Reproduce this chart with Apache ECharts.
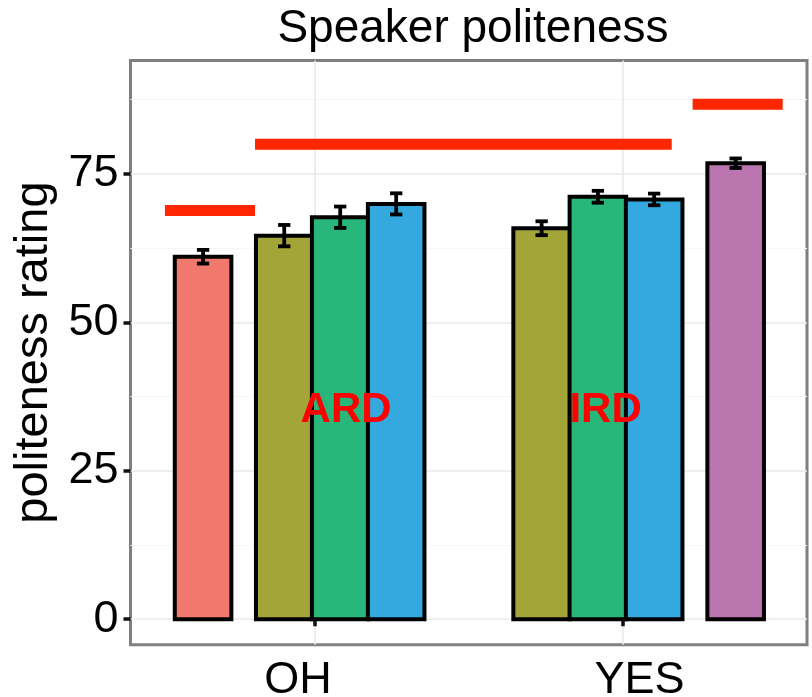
<!DOCTYPE html>
<html><head><meta charset="utf-8">
<script src="https://cdn.jsdelivr.net/npm/echarts@6/dist/echarts.min.js"></script>
<style>html,body{margin:0;padding:0;background:#fff}#c{width:812px;height:697px}</style>
</head><body><div id="c"></div>
<script>
// ---- data ----
const categories = ['OH', 'YES'];
const barCategory = ['OH', 'OH', 'OH', 'OH', 'YES', 'YES', 'YES', 'YES'];
const barValues = [61.05, 64.6, 67.7, 69.95, 65.85, 71.15, 70.7, 76.8];
const barErrors = [1.15, 1.8, 1.8, 1.78, 1.17, 1.0, 0.98, 0.8];
const referenceLevels = [68.85, 80.0, 86.75];
const annotationLabels = ['ARD', 'IRD'];
const annotationLevel = 35.1;
const yTicks = [0, 25, 50, 75];
const yMinorTicks = [12.5, 37.5, 62.5, 87.5];

// ---- layout (category units) and styles ----
const barOffsets = [-0.364, -0.100, 0.082, 0.264, -0.263, -0.080, 0.103, 0.368];
const barWidth = 0.184;
const capWidth = 0.04;
const barColors = ['#F1786C', '#A3A539', '#28B67A', '#33A9DF', '#A3A539', '#28B67A', '#33A9DF', '#BC76AF'];
const segmentSpans = [[0.512, 0.805], [0.805, 2.160], [2.228, 2.521]];
const annotationX = [1.101, 1.945];
const FONT = '"Liberation Sans", Arial, Helvetica, sans-serif';

const catPos = c => categories.indexOf(c) + 1;
const barData = barValues.map((v, i) => [catPos(barCategory[i]) + barOffsets[i], v, barErrors[i]]);
const segData = referenceLevels.map((v, i) => [segmentSpans[i][0], segmentSpans[i][1], v]);
const textData = annotationLabels.map((t, i) => [annotationX[i], annotationLevel, t]);

const labelRich = {
  l: {fontSize: 45, color: '#000', fontFamily: FONT, padding: [0, 34, 0, 0]},
  r: {fontSize: 45, color: '#000', fontFamily: FONT, padding: [0, 0, 0, 34]}
};

const chart = echarts.init(document.getElementById('c'), null, {renderer: 'canvas'});
chart.setOption({
  animation: false,
  backgroundColor: '#fff',
  title: {
    text: 'Speaker politeness', left: 468, top: 1, textAlign: 'center',
    textStyle: {fontSize: 46, fontWeight: 'normal', color: '#000', fontFamily: FONT}
  },
  grid: {
    left: 130.5, right: 5, top: 60.5, bottom: 52.3,
    show: true, borderColor: '#7f7f7f', borderWidth: 3, backgroundColor: 'transparent',
    outerBoundsMode: 'none', containLabel: false
  },
  xAxis: {
    type: 'value', min: 0.4, max: 2.6,
    axisLine: {show: false},
    axisTick: {show: true, length: 7, customValues: [1, 2], lineStyle: {color: '#111', width: 3.5}},
    axisLabel: {customValues: [1, 2],
      formatter: v => {
        const i = Math.round(v) - 1;
        if (!categories[i]) return '';
        return '{' + (i === 0 ? 'l' : 'r') + '|' + categories[i] + '}';
      },
      rich: labelRich,
      fontSize: 45, color: '#000', fontFamily: FONT, margin: 13},
    splitLine: {show: true, lineStyle: {color: '#e8e8e8', width: 1.6}}
  },
  yAxis: [{
    type: 'value', min: -4.3, max: 94.1,
    name: 'politeness rating', nameLocation: 'middle', nameGap: 63,
    nameTextStyle: {fontSize: 47, color: '#000', fontFamily: FONT},
    axisLine: {show: false},
    axisTick: {show: true, length: 7, customValues: yTicks, lineStyle: {color: '#111', width: 3.5}},
    axisLabel: {customValues: yTicks, fontSize: 45, color: '#000', fontFamily: FONT, margin: 12},
    splitLine: {show: true, lineStyle: {color: '#e8e8e8', width: 1.6}}
  }, {
    type: 'value', min: -4.3, max: 94.1, position: 'left',
    axisLine: {show: false},
    axisTick: {show: false, customValues: yMinorTicks},
    axisLabel: {show: false, customValues: yMinorTicks},
    splitLine: {show: true, lineStyle: {color: '#f5f6f5', width: 1.2}}
  }],
  series: [{
    type: 'custom', name: 'bars', data: barData, z: 3,
    renderItem: (params, api) => {
      const x = api.value(0), v = api.value(1);
      const p0 = api.coord([x - barWidth / 2, v]);
      const p1 = api.coord([x + barWidth / 2, 0]);
      return {type: 'rect', shape: {x: p0[0], y: p0[1], width: p1[0] - p0[0], height: p1[1] - p0[1]},
        style: {fill: barColors[params.dataIndex], stroke: '#000', lineWidth: 4}};
    }
  }, {
    type: 'custom', name: 'errors', data: barData, z: 4,
    renderItem: (params, api) => {
      const x = api.value(0), v = api.value(1), e = api.value(2);
      const top = api.coord([x, v + e]);
      const bot = api.coord([x, v - e]);
      const hw = api.size([capWidth, 0])[0] / 2;
      const st = {stroke: '#000', lineWidth: 3.8};
      return {type: 'group', children: [
        {type: 'line', shape: {x1: top[0], y1: top[1], x2: bot[0], y2: bot[1]}, style: st},
        {type: 'line', shape: {x1: top[0] - hw, y1: top[1], x2: top[0] + hw, y2: top[1]}, style: st},
        {type: 'line', shape: {x1: bot[0] - hw, y1: bot[1], x2: bot[0] + hw, y2: bot[1]}, style: st}
      ]};
    }
  }, {
    type: 'custom', name: 'levels', data: segData, z: 4,
    renderItem: (params, api) => {
      const a = api.coord([api.value(0), api.value(2)]);
      const b = api.coord([api.value(1), api.value(2)]);
      return {type: 'line', shape: {x1: a[0], y1: a[1], x2: b[0], y2: b[1]},
        style: {stroke: '#FF2600', lineWidth: 11, lineCap: 'butt'}};
    }
  }, {
    type: 'custom', name: 'labels', data: textData, z: 5,
    dimensions: ['x', 'y', {name: 't', type: 'ordinal'}],
    renderItem: (params, api) => {
      const p = api.coord([api.value(0), api.value(1)]);
      return {type: 'text', x: p[0], y: p[1],
        style: {text: textData[params.dataIndex][2], fill: '#FF0000', fontSize: 42, fontWeight: 'bold',
          fontFamily: FONT, align: 'center', verticalAlign: 'middle'}};
    }
  }]
});
</script>
</body></html>
